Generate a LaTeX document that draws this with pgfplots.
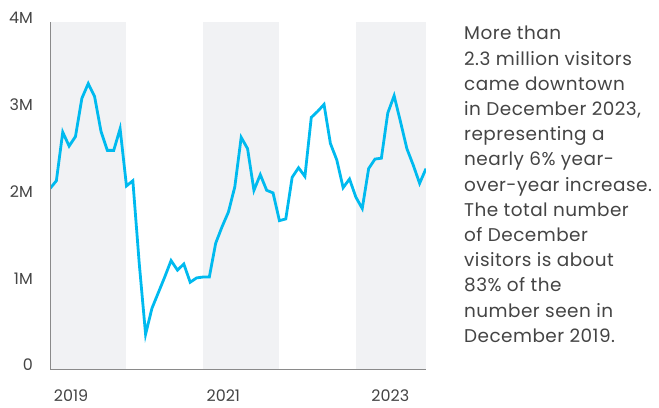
\documentclass[border=0pt]{standalone}
\usepackage{fontspec}
\setmainfont{Poppins}
\newfontfamily\bodyfont[LetterSpace=2.5]{Poppins}
\usepackage{pgfplots}
\pgfplotsset{compat=1.18}
\definecolor{txt}{HTML}{444444}
\definecolor{band}{HTML}{F1F2F4}
\definecolor{visit}{HTML}{00BAEF}
\definecolor{frame}{HTML}{8A8A8A}

\begin{document}
\begin{tikzpicture}
\useasboundingbox (0,0) rectangle (659bp,408bp);
\begin{axis}[
    at={(50bp,39bp)}, anchor=south west,
    scale only axis, width=376bp, height=347bp,
    xmin=0, xmax=59, ymin=0, ymax=4,
    axis on top,
    axis x line*=bottom, axis y line*=left,
    axis line style={draw=frame, line width=0.8bp},
    major tick length=0pt,
    xtick={3.3,27.2,53.4}, xticklabels={2019,2021,2023},
    ytick={0,1,2,3,4}, yticklabels={0,1M,2M,3M,4M},
    tick label style={font=\fontsize{16}{16}\selectfont, text=txt},
    xticklabel style={anchor=north, inner sep=0pt, yshift=-21bp},
    yticklabel style={anchor=east, inner sep=0pt, xshift=-17bp, yshift=4bp},
]
% shaded years 2019, 2021, 2023
\fill[band] (axis cs:0,0) rectangle (axis cs:12,4);
\fill[band] (axis cs:24,0) rectangle (axis cs:36,4);
\fill[band] (axis cs:48,0) rectangle (axis cs:59,4);

% monthly visitors, millions, Jan 2019 .. Dec 2023
\addplot[visit, line width=2.8bp, line join=miter, mark=none] coordinates {
(0,2.08) (1,2.17) (2,2.73) (3,2.57) (4,2.68) (5,3.12) (6,3.29) (7,3.14)
(8,2.74) (9,2.52) (10,2.52) (11,2.77)
(12,2.11) (13,2.17) (14,1.22) (15,0.40) (16,0.70) (17,0.88) (18,1.06) (19,1.25)
(20,1.14) (21,1.21) (22,1.00) (23,1.05)
(24,1.06) (25,1.06) (26,1.45) (27,1.64) (28,1.81) (29,2.10) (30,2.67) (31,2.54)
(32,2.06) (33,2.24) (34,2.06) (35,2.03)
(36,1.71) (37,1.73) (38,2.21) (39,2.32) (40,2.22) (41,2.90) (42,2.97) (43,3.05)
(44,2.60) (45,2.41) (46,2.09) (47,2.19)
(48,1.98) (49,1.85) (50,2.31) (51,2.42) (52,2.43) (53,2.95) (54,3.15) (55,2.85)
(56,2.54) (57,2.35) (58,2.14) (59,2.31)
};
\draw[color=txt!90, line width=0.8bp] (axis cs:59,0) -- (axis cs:59,4);
\end{axis}
\node[anchor=north west, inner sep=0pt, align=left, text=txt,
      font=\bodyfont\fontsize{18.5}{25.3}\selectfont] at (464bp,382bp)
  {More than\\
   2.3 million visitors\\
   came downtown\\
   in December 2023,\\
   representing a\\
   nearly 6\% year-\\
   over-year increase.\\
   The total number\\
   of December\\
   visitors is about\\
   83\% of the\\
   number seen in\\
   December 2019.};
\end{tikzpicture}
\end{document}
